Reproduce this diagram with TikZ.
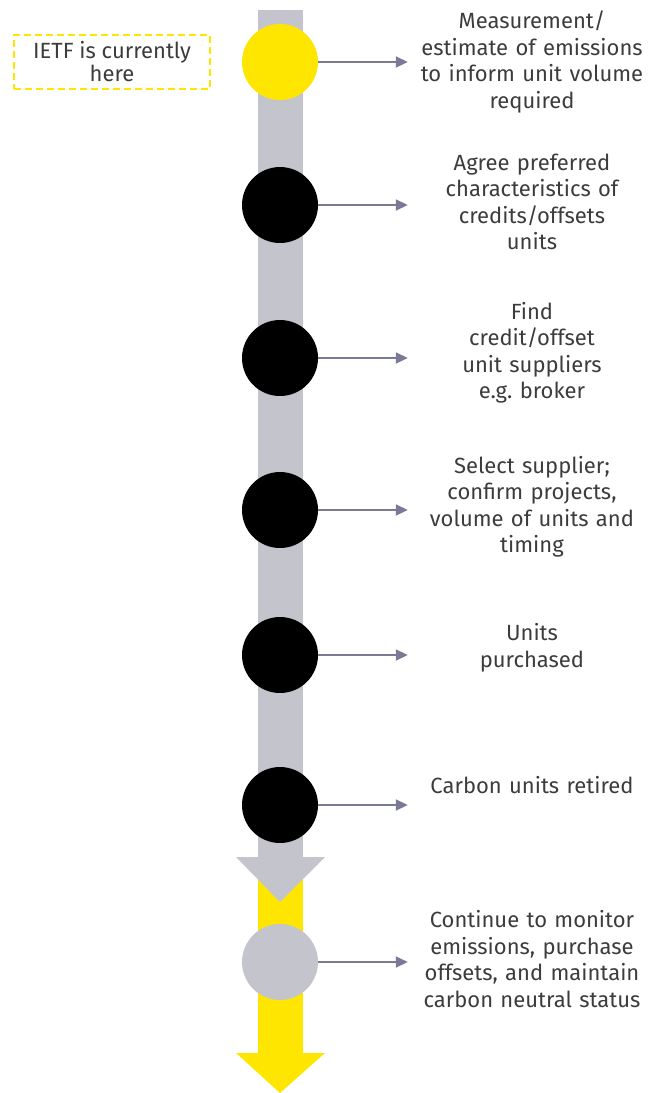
\documentclass[tikz,border=0pt]{standalone}
\usepackage{fontspec}
\setmainfont{Fira Sans}
\usetikzlibrary{arrows.meta,positioning}
\definecolor{cBar}{HTML}{C4C4CD}
\definecolor{cYel}{HTML}{FFE600}
\definecolor{cLine}{HTML}{7A7A94}
\definecolor{cTxt}{HTML}{3C3C3C}
\tikzset{
  stage/.style ={circle, fill=black, minimum size=76pt, inner sep=0pt},
  desc/.style  ={align=center, text width=248pt, inner sep=0pt, text=cTxt,
                 font=\fontsize{22}{26.5}\selectfont},
  note/.style  ={draw=cYel, dash pattern=on 7pt off 4pt, line width=1.3pt,
                 minimum width=196pt, minimum height=54pt, align=center,
                 text=cTxt, font=\fontsize{22}{23}\selectfont},
  fl/.style    ={-{Triangle[length=12pt,width=11pt]}, draw=cLine,
                 line width=1.8pt},
}
\begin{document}
\begin{tikzpicture}[x=1pt,y=-1pt]
  \useasboundingbox (0,0) rectangle (649,1093);
  % timeline bar
  \fill[cYel] (258,875) rectangle (303,1054);
  \fill[cYel] (236,1053) -- (325,1053) -- (280,1093) -- cycle;
  \fill[cBar] (258,10) rectangle (303,858);
  \fill[cBar] (236,857) -- (325,857) -- (280,902) -- cycle;
  % stages
  \node[stage,fill=cYel] (c1) at (280,62) {};
  \node[stage] (c2) at (280,205) {};
  \node[stage] (c3) at (280,358) {};
  \node[stage] (c4) at (280,510) {};
  \node[stage] (c5) at (280,655) {};
  \node[stage] (c6) at (280,805) {};
  \node[stage,fill=cBar] (c7) at (280,962) {};
  \node[note] (here) at (112,62) {IETF is currently\\here};
  \node[desc] (t1) at (532,62) {Measurement/\\estimate of emissions\\to inform unit volume\\required};
  \node[desc] (t2) at (532,202) {Agree preferred\\characteristics of\\credits/offsets\\units};
  \node[desc] (t3) at (532,353) {Find\\credit/offset\\unit suppliers\\e.g.\ broker};
  \node[desc] (t4) at (532,507) {Select supplier;\\confirm projects,\\volume of units and\\timing};
  \node[desc] (t5) at (532,648) {Units\\purchased};
  \node[desc] (t6) at (532,785) {Carbon units retired};
  \node[desc] (t7) at (532,959) {Continue to monitor\\emissions, purchase\\offsets, and maintain\\carbon neutral status};
  \draw[fl](c1.east)--(c1-|t1.west);\draw[fl](c2.east)--(c2-|t2.west);
  \draw[fl](c3.east)--(c3-|t3.west);\draw[fl](c4.east)--(c4-|t4.west);
  \draw[fl](c5.east)--(c5-|t5.west);\draw[fl](c6.east)--(c6-|t6.west);
  \draw[fl](c7.east)--(c7-|t7.west);
\end{tikzpicture}
\end{document}
